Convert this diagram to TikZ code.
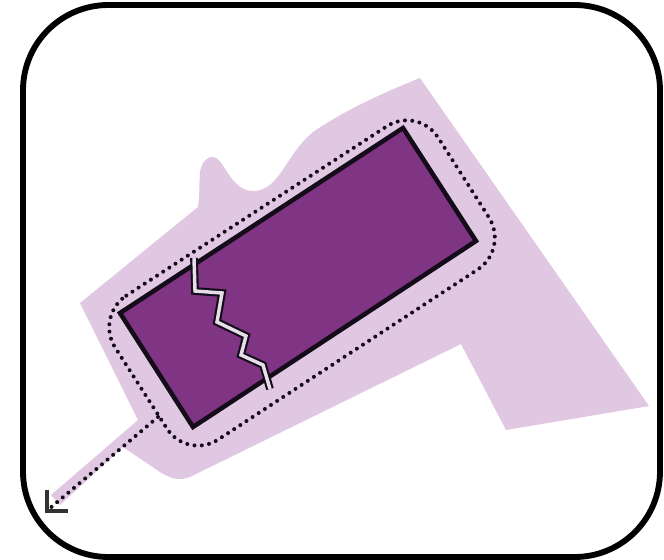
\documentclass[tikz,border=0pt]{standalone}
\usetikzlibrary{arrows.meta,positioning,calc}
\definecolor{ink}{RGB}{20,12,24}
\definecolor{site}{RGB}{224,200,226}
\definecolor{plot}{RGB}{127,53,131}
\definecolor{crack}{RGB}{232,222,234}
\tikzset{
  frame/.style={draw=black, line width=4.4pt, rounded corners=64pt, fill=white},
  land/.style={fill=site, draw=none},
  block/.style={draw=ink, fill=plot, line width=3.4pt, line join=miter},
  limit/.style={draw=ink, line width=3pt, line cap=round, dash pattern=on 0pt off 5.5pt},
  access/.style={limit, -{Straight Barb[length=11pt,width=22pt,line width=3pt,color=black!80]}},
  breakline/.style={draw=ink, line width=1.6pt, double=crack, double distance=2.6pt, line join=miter},
}
\begin{document}
\begin{tikzpicture}[x=0.75pt,y=-0.75pt]
  \useasboundingbox (0,0) rectangle (664,560);
  \draw[frame] (23,5) rectangle (660,557);
  % The surrounding land, with the bump on top and the strip to the arrow.
  \fill[land] (420,78) -- (649,406) -- (506,430) -- (461,344) -- (196,474)
    .. controls (184,481) and (174,481) .. (160,472)
    -- (123,447) -- (60,505) -- (51,495) -- (138,420) -- (80,303) -- (198,207)
    .. controls (200,195) and (199,180) .. (200,172)
    .. controls (202,160) and (208,157) .. (213,157)
    .. controls (224,157) and (230,191) .. (253,191)
    .. controls (280,191) and (285,155) .. (313,132)
    .. controls (335,117) and (365,100) .. cycle;
  % The building and the break across it.
  \coordinate (cTR) at (403,128);
  \coordinate (cBR) at (476,241);
  \coordinate (cBL) at (193,427);
  \coordinate (cTL) at (120,313);
  \draw[block] (cTR) -- (cBR) -- (cBL) -- (cTL) -- cycle;
  \draw[breakline] (194,258) -- (195,291) -- (222,293) -- (217,322) -- (246,336)
    -- (241,355) -- (263,365) -- (270,389);
  % Dotted limit round the building; the arrow leaves it on the lower left.
  \draw[limit, rounded corners=28pt] (95,316) -- (418,106) -- (509,249) -- (187,460) -- cycle;
  \coordinate (aStart) at (158,417);
  \coordinate (aBend) at (49,509);
  \coordinate (aEnd) at (45,513);
  \draw[access] (aStart) -- (aBend) -- (aEnd);
\end{tikzpicture}
\end{document}
